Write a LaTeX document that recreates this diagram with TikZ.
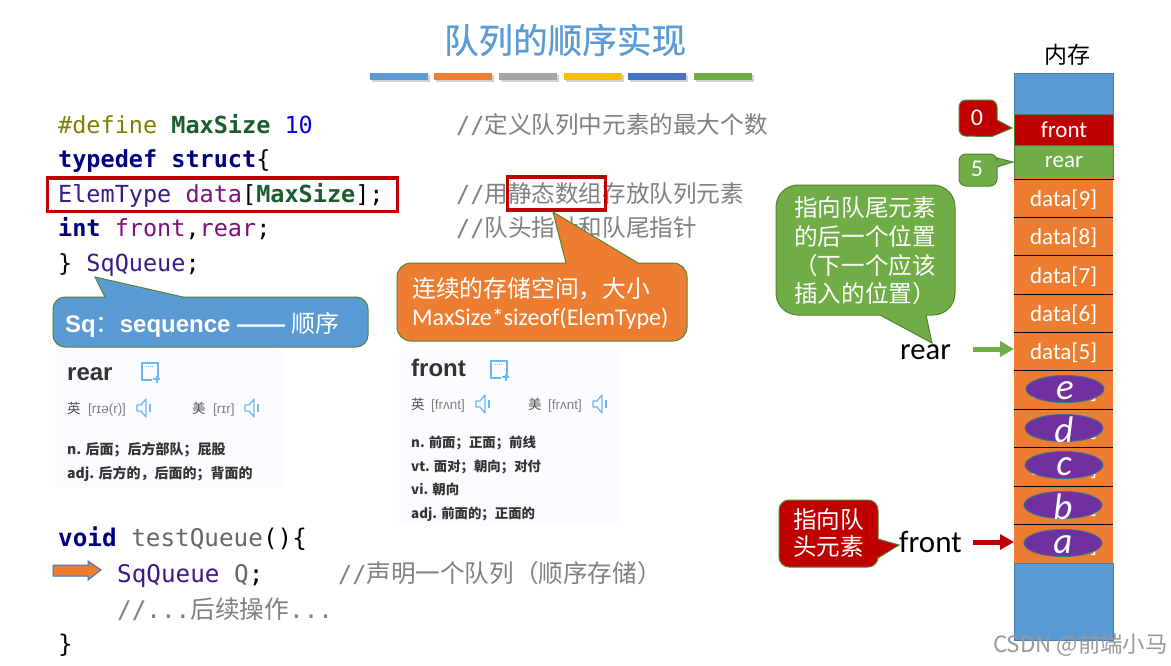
\documentclass[tikz,border=0pt]{standalone}
\usepackage{fontspec}
\setmainfont{Carlito}
\newfontfamily\cjk{Noto Sans CJK SC}
\newfontfamily\cjkt[FakeBold=0.6]{Noto Sans CJK SC}
\newfontfamily\monof{DejaVu Sans Mono}
\newfontfamily\libs{Liberation Sans}
\usetikzlibrary{arrows.meta,shapes.geometric,shadows}
\definecolor{cblue}{HTML}{5B9BD5}
\definecolor{corange}{HTML}{ED7D31}
\definecolor{cgray}{HTML}{A5A5A5}
\definecolor{cyellow}{HTML}{FFC000}
\definecolor{cdblue}{HTML}{4472C4}
\definecolor{cgreen}{HTML}{70AD47}
\definecolor{cred}{HTML}{C00000}
\definecolor{cedge}{HTML}{548235}
\definecolor{cpurple}{HTML}{7030A0}
\definecolor{kwnavy}{HTML}{00007F}
\definecolor{kwgreen}{HTML}{1A5C2E}
\definecolor{kwolive}{HTML}{808000}
\definecolor{kwtype}{HTML}{3A1A85}
\definecolor{kwvar}{HTML}{7F0F7F}
\definecolor{kwcom}{HTML}{808080}
\definecolor{dictbg}{HTML}{FBFCFF}
\definecolor{dictic}{HTML}{6DB8F2}
\definecolor{dicttx}{HTML}{333333}
\newcommand{\fsz}[1]{\fontsize{#1}{#1}\selectfont}
\newcommand{\cmt}[2][23.6]{{\color{kwcom}\monof //\cjk\fsz{#1}#2}}
\newcommand{\spk}[2]{\draw[dictic,line width=1.3pt,line join=round] (#1,#2) ++(0,-3) -- ++(4,0) -- ++(5,-6) -- ++(0,18) -- ++(-5,-6) -- ++(-4,0) -- cycle; \draw[dictic,line width=1.5pt] (#1,#2) ++(13,-4) -- ++(0,8);}
\newcommand{\noteic}[2]{\draw[dictic,line width=1.3pt] (#1,#2) ++(16,6) -- ++(0,-15) -- ++(-16,0) -- ++(0,17) -- ++(10,0); \draw[dictic,line width=1pt,densely dotted] (#1,#2) ++(4,-6) -- ++(8,0); \draw[dictic,line width=2pt] (#1,#2) ++(11,7) -- ++(7,0) (#1,#2) ++(14.5,3.5) -- ++(0,7);}
\tikzset{
  codetext/.style={anchor=base west,inner sep=0pt,font=\monof\fsz{23.5}},
  codetextb/.style={anchor=base west,inner sep=0pt,font=\monof\fsz{24.3}},
  callout/.style={line width=1pt,draw=cedge},
  cw/.style={anchor=base west,inner sep=0pt,text=white},
  cellbox/.style={minimum width=99pt,inner sep=0pt,text=white,font=\fsz{23},anchor=north west,text depth=0pt},
  oval/.style={ellipse,fill=cpurple,draw=cblue!70!black,line width=1pt,minimum width=78pt,minimum height=27pt,inner sep=0pt},
  ovaltxt/.style={inner sep=0pt,text=white,font=\fsz{37}\itshape},
  sep/.style={draw=black,line width=1pt},
  bar/.style={minimum width=58pt,minimum height=7pt,inner sep=0pt,anchor=north west,drop shadow={shadow xshift=2pt,shadow yshift=-2pt,opacity=.35}},
  dict/.style={fill=dictbg},
  dh/.style={anchor=base west,inner sep=0pt,text=dicttx,font=\libs\bfseries\fsz{24}},
  dp/.style={anchor=base west,inner sep=0pt,text=gray,font=\libs\fsz{13.5}},
  dz/.style={anchor=base west,inner sep=0pt,text=dicttx!85,font=\cjk\fsz{13.5}},
  dm/.style={anchor=base west,inner sep=0pt,text=dicttx,font=\cjk\bfseries\fsz{14}},
  dmf/.style={anchor=base west,inner sep=0pt,text=dicttx,font=\cjk\bfseries\fsz{13.4}},
  ptr/.style={line width=5pt,-{Triangle[length=14pt,width=15pt]}},
}
\begin{document}
\begin{tikzpicture}[x=1pt,y=-1pt]
\useasboundingbox (0,0) rectangle (1171,665);
\fill[white] (0,0) rectangle (1171,665);
% title
\node[inner sep=0pt,text=cblue,font=\cjkt\fsz{34.6}] (title) at (565,40) {队列的顺序实现};
\node[bar,fill=cblue] (b1) at (370,73) {};
\node[bar,fill=corange] (b2) at (434,73) {};
\node[bar,fill=cgray] (b3) at (499,73) {};
\node[bar,fill=cyellow] (b4) at (564,73) {};
\node[bar,fill=cdblue] (b5) at (628,73) {};
\node[bar,fill=cgreen] (b6) at (694,73) {};
% code
\node[codetext] (l1) at (58,133) {\color{kwolive}\#define \textcolor{kwgreen}{\bfseries MaxSize} \textcolor{blue}{10}};
\node[codetext] (l2) at (58,167) {\color{kwnavy}\bfseries typedef struct\textcolor{black}{\mdseries\{}};
\node[codetext] (l3) at (58,202) {\textcolor{kwtype}{ElemType} \textcolor{kwvar}{data}[\textcolor{kwgreen}{\bfseries MaxSize}];};
\node[codetext] (l4) at (58,236) {\textcolor{kwnavy}{\bfseries int} \textcolor{kwvar}{front},\textcolor{kwvar}{rear};};
\node[codetext] (l5) at (58,271) {\} \textcolor{kwtype}{SqQueue};};
\node[codetext] (c1) at (456,133) {\cmt{定义队列中元素的最大个数}};
\node[codetext] (c3) at (456,202) {\cmt{用静态数组存放队列元素}};
\node[codetext] (c4) at (456,236) {\cmt{队头指针和队尾指针}};
\draw[cred,line width=3.5pt] (47.5,178) rectangle (397.5,211.5);
\node[draw=cred,line width=3.5pt,minimum width=98pt,minimum height=33pt,inner sep=0pt] (hl) at (556.5,193.5) {};
% Sq callout
\path[fill=cblue,callout] (95,277) -- (105,297) [rounded corners=12pt] -- (53,297) -- (53,347) -- (368,347) -- (368,297) [sharp corners] -- (183,297) -- cycle;
\node[cw,font=\libs\bfseries\fsz{24}] (sq) at (65,332) {Sq{\cjk\mdseries：}sequence —— {\cjk\mdseries 顺序}};
% orange callout
\path[fill=corange,callout] (553,212) -- (566,263) [rounded corners=14pt] -- (397,263) -- (397,341) -- (687,341) -- (687,263) [sharp corners] -- (638,263) -- cycle;
\node[cw,font=\cjk\fsz{23.8}] (oc1) at (412,297) {连续的存储空间，大小};
\node[cw,font=\fsz{24}] (oc2) at (412,325) {MaxSize*sizeof(ElemType)};
% dictionary rear
\fill[dict] (55,350) rectangle (282,488);
\node[dh] (rw) at (67,380) {rear};
\noteic{142}{372}
\node[dz] (r1) at (67,413) {英};
\node[dp] (r2) at (88,413) {[rɪə(r)]};
\spk{137}{408}
\node[dz] (r3) at (192,413) {美};
\node[dp] (r4) at (213,413) {[rɪr]};
\spk{245}{408}
\node[dm] (r5) at (67,454) {n. 后面；后方部队；屁股};
\node[dm] (r6) at (67,478) {adj. 后方的，后面的；背面的};
% dictionary front
\fill[dict] (399,348) rectangle (622,526);
\node[dh] (fw) at (411,376) {front};
\noteic{491}{370}
\node[dz] (f1) at (411,409) {英};
\node[dp] (f2) at (431,409) {[frʌnt]};
\spk{476}{404}
\node[dz] (f3) at (528,409) {美};
\node[dp] (f4) at (548,409) {[frʌnt]};
\spk{593}{404}
\node[dmf] (f5) at (411,447) {n. 前面；正面；前线};
\node[dmf] (f6) at (411,471) {vt. 面对；朝向；对付};
\node[dmf] (f7) at (411,494) {vi. 朝向};
\node[dmf] (f8) at (411,518) {adj. 前面的；正面的};
% lower code
\node[codetextb] (m1) at (58,546) {\textcolor{kwnavy}{\bfseries void} \textcolor{black!60}{testQueue}()\{};
\path[fill=corange,draw=cdblue,line width=1pt] (53,565) -- (88,565) -- (88,561) -- (101,570) -- (88,580) -- (88,576) -- (53,576) -- cycle;
\node[codetextb] (m2) at (117,582) {\textcolor{kwtype}{SqQueue} \textcolor{black!60}{Q};};
\node[codetext] (m3) at (338,582) {\cmt[24.6]{声明一个队列（顺序存储）}};
\node[codetextb,text=kwcom] (m4) at (117,618) {//...{\cjk\fsz{24.7}后续操作}...};
\node[codetextb] (m5) at (58,652) {\}};
% memory
\node[inner sep=0pt,font=\cjk\fsz{23}] (mem) at (1067,55) {内存};
\node[cellbox,fill=cblue,minimum height=41pt,draw=cblue!80!black,line width=.5pt] (top) at (1014,73) {};
\node[cellbox,fill=cblue,minimum height=77pt,draw=cblue!80!black,line width=.5pt] (bot) at (1014,563) {};
\node[cellbox,fill=cred,minimum height=31pt,draw=cedge,line width=1pt] (mf) at (1014,113.5) {front};
\node[cellbox,fill=cgreen,minimum height=33pt,draw=cedge,line width=1pt] (mr) at (1014,145) {rear};
\foreach \n/\t/\yy/\h in {d9/data[9]/178/39,d8/data[8]/217/38,d7/data[7]/255/39,d6/data[6]/294/38,d5/data[5]/332/38,d4/data[4]/370/39,d3/data[3]/409/38,d2/data[2]/447/39,d1/data[1]/486/38,d0/data[0]/524/39}
  {\node[cellbox,fill=corange,minimum height=\h pt] (\n) at (1014,\yy) {\t};}
\foreach \n in {mr,d9,d8,d7,d6,d5,d4,d3,d2,d1}
  {\draw[sep] (\n.south west) -- (\n.south east);}
\foreach \n/\t/\xx/\yy in {oe/e/1065/389,od/d/1064/428,oc/c/1064/465,ob/b/1063/505,oa/a/1063/543}
  {\node[oval] (\n) at (\xx,\yy) {};
   \node[ovaltxt] (t\n) at (\xx,\yy+2) {\t};}
% small callouts
\path[fill=cred,callout] (1012,128) -- (992,136.5) [rounded corners=7pt] -- (959,136) -- (959,100) -- (997,100) [sharp corners] -- (997,120) -- cycle;
\node[inner sep=0pt,text=white,font=\fsz{24}] (n0) at (977,118) {0};
\path[fill=cgreen,callout] (1013,162) -- (997,167) [rounded corners=7pt] -- (997,186) -- (959,186) -- (959,154) -- (997,154) [sharp corners] -- (997,158) -- cycle;
\node[inner sep=0pt,text=white,font=\fsz{24}] (n5) at (977,169) {5};
% green callout
\path[fill=cgreen,callout] (932,343) -- (880,315) [rounded corners=22pt] -- (776,315) -- (776,185) -- (955,185) -- (955,315) [sharp corners] -- (926,315) -- cycle;
\node[cw,font=\cjk\fsz{23.6}] (g1) at (794,216) {指向队尾元素};
\node[cw,font=\cjk\fsz{23.6}] (g2) at (794,245) {的后一个位置};
\node[cw,font=\cjk\fsz{23.6}] (g3) at (794,274) {（下一个应该};
\node[cw,font=\cjk\fsz{23.6}] (g4) at (794,302) {插入的位置）};
\node[anchor=base west,inner sep=0pt,font=\fsz{30.5}] (rearl) at (900,359) {rear};
\coordinate (rs) at (973,349);
\draw[ptr,cgreen] (rs) -- (rs -| d5.west);
% red callout
\path[fill=cred,callout] (899,545) -- (878,558) [rounded corners=10pt] -- (878,567) -- (779,567) -- (779,500) -- (878,500) [sharp corners] -- (878,539) -- cycle;
\node[cw,font=\cjk\fsz{23.6}] (h1) at (793,528) {指向队};
\node[cw,font=\cjk\fsz{23.6}] (h2) at (793,555) {头元素};
\node[anchor=base west,inner sep=0pt,font=\fsz{31}] (frontl) at (899,552) {front};
\coordinate (fs) at (973,542);
\draw[ptr,cred] (fs) -- (fs -| d0.west);
% watermark
\node[anchor=base west,inner sep=0pt,text=gray!80,font=\cjk\fsz{22.4}] (wm) at (993,652) {CSDN @前端小马};
\end{tikzpicture}
\end{document}
